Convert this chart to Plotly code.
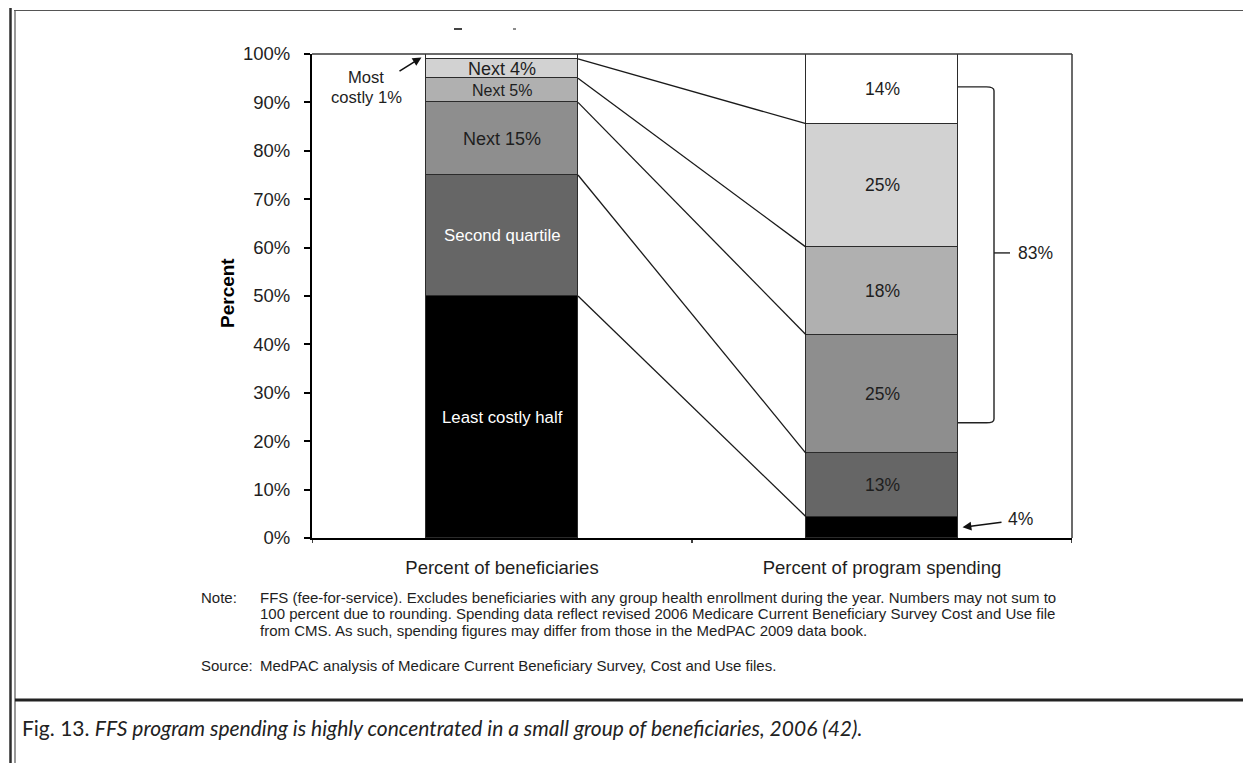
import plotly.graph_objects as go

# ---------------- data ----------------
categories = ["Percent of beneficiaries", "Percent of program spending"]
segment_names = ["Least costly half", "Second quartile", "Next 15%", "Next 5%", "Next 4%", "Most costly 1%"]
beneficiaries = [50, 25, 15, 5, 4, 1]
spending = [4.4, 13.1, 24.5, 18.1, 25.5, 14.4]
spending_labels = ["4%", "13%", "25%", "18%", "25%", "14%"]
bracket_label = "83%"
y_ticks = [0, 10, 20, 30, 40, 50, 60, 70, 80, 90, 100]
y_tick_labels = [f"{v}%" for v in y_ticks]
note_lines = [
    "FFS (fee-for-service). Excludes beneficiaries with any group health enrollment during the year. Numbers may not sum to",
    "100 percent due to rounding. Spending data reflect revised 2006 Medicare Current Beneficiary Survey Cost and Use file",
    "from CMS. As such, spending figures may differ from those in the MedPAC 2009 data book.",
]
source_text = "MedPAC analysis of Medicare Current Beneficiary Survey, Cost and Use files."
caption_lead = "Fig. 13. "
caption_text = "FFS program spending is highly concentrated in a small group of beneficiaries, 2006 (42)."

# ---------------- style ----------------
OFF = 8                     # page body margin of the html document
W, H = 1251 - OFF, 763 - OFF
# plot area in screen pixels
SL, SR, ST, SB = 312, 1072, 54, 538
PL, PR, PT, PB = SL - OFF, SR - OFF, ST - OFF, SB - OFF
seg_colors = ["#000000", "#666666", "#8e8e8e", "#b0b0b0", "#d2d2d2", "#ffffff"]
FONT = "Liberation Sans, Arial, sans-serif"
TXT = "#1e1e1e"
BAR_X = [0.5, 1.5]
BAR_W = 0.4


def px(x):
    """screen x pixel -> paper"""
    return (x - SL) / (SR - SL)


def py(y):
    """screen y pixel -> paper"""
    return (SB - y) / (SB - ST)


def dx(x):
    return 2 * px(x)


def dy(y):
    return 100 * py(y)


def cum(vals):
    out, s = [], 0
    for v in vals:
        s += v
        out.append(s)
    return out


fig = go.Figure()

for i in range(len(beneficiaries)):
    fig.add_trace(go.Bar(
        x=BAR_X, y=[beneficiaries[i], spending[i]], width=BAR_W,
        marker=dict(color=seg_colors[i], line=dict(color="#2b2b2b", width=1.5)),
        hoverinfo="skip", showlegend=False, name=segment_names[i],
    ))

cb = cum(beneficiaries)
cs = cum(spending)

# connector lines between bars
for i in range(len(beneficiaries) - 1):
    fig.add_trace(go.Scatter(
        x=[BAR_X[0] + BAR_W / 2, BAR_X[1] - BAR_W / 2], y=[cb[i], cs[i]],
        mode="lines", line=dict(color="#1a1a1a", width=1.3),
        hoverinfo="skip", showlegend=False,
    ))

annotations = []


def text_at(x, y, text, size, color=TXT, xref="paper", yref="paper", xanchor="center",
            family=FONT, angle=0):
    annotations.append(dict(
        x=x, y=y, xref=xref, yref=yref, xanchor=xanchor, yanchor="middle",
        text=text, showarrow=False, textangle=angle,
        font=dict(family=family, size=size, color=color),
    ))


# labels inside the beneficiaries bar
label_style = {
    0: ("#ffffff", 16.8),
    1: ("#ffffff", 16.8),
    2: (TXT, 18),
    3: (TXT, 16),
    4: (TXT, 18),
}
for i, (col, sz) in label_style.items():
    text_at(BAR_X[0], cb[i] - beneficiaries[i] / 2, segment_names[i], sz, col, "x", "y")

# "Most costly 1%" outside with arrow
text_at(px(366), py(78), "Most", 16.6)
text_at(px(366), py(97), "costly 1%", 16.6)
annotations.append(dict(
    x=BAR_X[0] - BAR_W / 2 - 0.012, y=cb[-1] - beneficiaries[-1] / 2 - 0.2, xref="x", yref="y",
    ax=dx(398), ay=dy(72), axref="x", ayref="y",
    text="", showarrow=True, arrowhead=2, arrowsize=1.1, arrowwidth=1.6, arrowcolor="#111",
    standoff=0, startstandoff=0,
))

# labels inside the spending bar
for i in range(1, len(spending)):
    text_at(BAR_X[1], cs[i] - spending[i] / 2, spending_labels[i], 17.5, TXT, "x", "y")

# 4% outside with arrow
text_at(px(1020), py(519), spending_labels[0], 17.5)
annotations.append(dict(
    x=BAR_X[1] + BAR_W / 2 + 0.012, y=spending[0] / 2, xref="x", yref="y",
    ax=dx(1003), ay=dy(522), axref="x", ayref="y",
    text="", showarrow=True, arrowhead=2, arrowsize=1.1, arrowwidth=1.6, arrowcolor="#111",
    standoff=0, startstandoff=0,
))

# bracket label
br_top = 93.2
br_bot = 23.8
br_mid = (br_top + br_bot) / 2 + 0.4
text_at(px(1035), br_mid, bracket_label, 17.5, TXT, "paper", "y")

# y-axis title
text_at(px(227), py(293), "<b>Percent</b>", 19, "#000", angle=-90)

# note and source
NOTE_SZ = 15
text_at(px(199), py(597), "Note:", NOTE_SZ, xanchor="left")
for k, line in enumerate(note_lines):
    text_at(px(258), py(597 + 16.5 * k), line, NOTE_SZ, xanchor="left")
text_at(px(199), py(665), "Source:", NOTE_SZ, xanchor="left")
text_at(px(258), py(665), source_text, NOTE_SZ, xanchor="left")

# caption
text_at(px(20), py(727), caption_lead + "<i>" + caption_text + "</i>", 21, "#222",
        xanchor="left", family="Lato, Noto Sans, sans-serif")

shapes = []


def hline(x0, x1, y, color, width):
    shapes.append(dict(type="line", xref="paper", yref="paper", x0=px(x0), x1=px(x1),
                       y0=py(y), y1=py(y), line=dict(color=color, width=width)))


def vline(x, y0, y1, color, width):
    shapes.append(dict(type="line", xref="paper", yref="paper", x0=px(x), x1=px(x),
                       y0=py(y0), y1=py(y1), line=dict(color=color, width=width)))


# plot-area border top / right
hline(SL, SR, ST, "#3a3a3a", 1.5)
vline(SR, ST, SB, "#3a3a3a", 1.5)
# x category tick marks
for xv in [0, 1, 2]:
    shapes.append(dict(type="line", xref="x", yref="paper", x0=xv, x1=xv, y0=0, y1=py(543),
                       line=dict(color="#000", width=1.5)))
# bracket
bx0 = BAR_X[1] + BAR_W / 2
bx1 = dx(994)
shapes.append(dict(
    type="path", xref="x", yref="y",
    path=f"M {bx0} {br_top} L {bx1 - 0.02} {br_top} Q {bx1} {br_top} {bx1} {br_top - 0.8} "
         f"L {bx1} {br_bot + 0.8} Q {bx1} {br_bot} {bx1 - 0.02} {br_bot} L {bx0} {br_bot}",
    line=dict(color="#222", width=1.4),
))
shapes.append(dict(type="line", xref="x", yref="y", x0=bx1, x1=dx(1010), y0=br_mid, y1=br_mid,
                   line=dict(color="#222", width=1.4)))

# page frame
frame = "#2e2e2e"
hline(9, 1252, 6.8, frame, 2.5)
hline(14, 1252, 10.5, "#555", 1.2)
vline(10.5, 5.5, 770, frame, 2.5)
vline(15, 10, 770, "#555", 1.2)
vline(1248.5, 5.5, 770, "#777", 2)
hline(15, 1249, 700, "#222", 3)
# fragments of a cropped title
hline(454, 462, 29, "#444", 2)
hline(513, 516, 29, "#666", 1.5)

fig.update_layout(
    width=W, height=H,
    margin=dict(l=PL, r=W - PR, t=PT, b=H - PB, pad=0),
    paper_bgcolor="white", plot_bgcolor="white",
    barmode="stack", bargap=0,
    showlegend=False,
    annotations=annotations, shapes=shapes,
    font=dict(family=FONT, color=TXT),
    xaxis=dict(
        range=[0, 2], tickvals=BAR_X, ticktext=categories, ticks="",
        showgrid=False, zeroline=False, showline=True, linecolor="#000", linewidth=2,
        tickfont=dict(family=FONT, size=18.5, color=TXT), ticklabelstandoff=12,
        fixedrange=True,
    ),
    yaxis=dict(
        range=[0, 100], tickvals=y_ticks, ticktext=y_tick_labels, ticks="outside", ticklen=6,
        tickwidth=1.5, tickcolor="#000",
        showgrid=False, zeroline=False, showline=True, linecolor="#000", linewidth=2,
        tickfont=dict(family=FONT, size=18.5, color=TXT), ticklabelstandoff=10,
        fixedrange=True,
    ),
)

fig.write_html("out.html")
